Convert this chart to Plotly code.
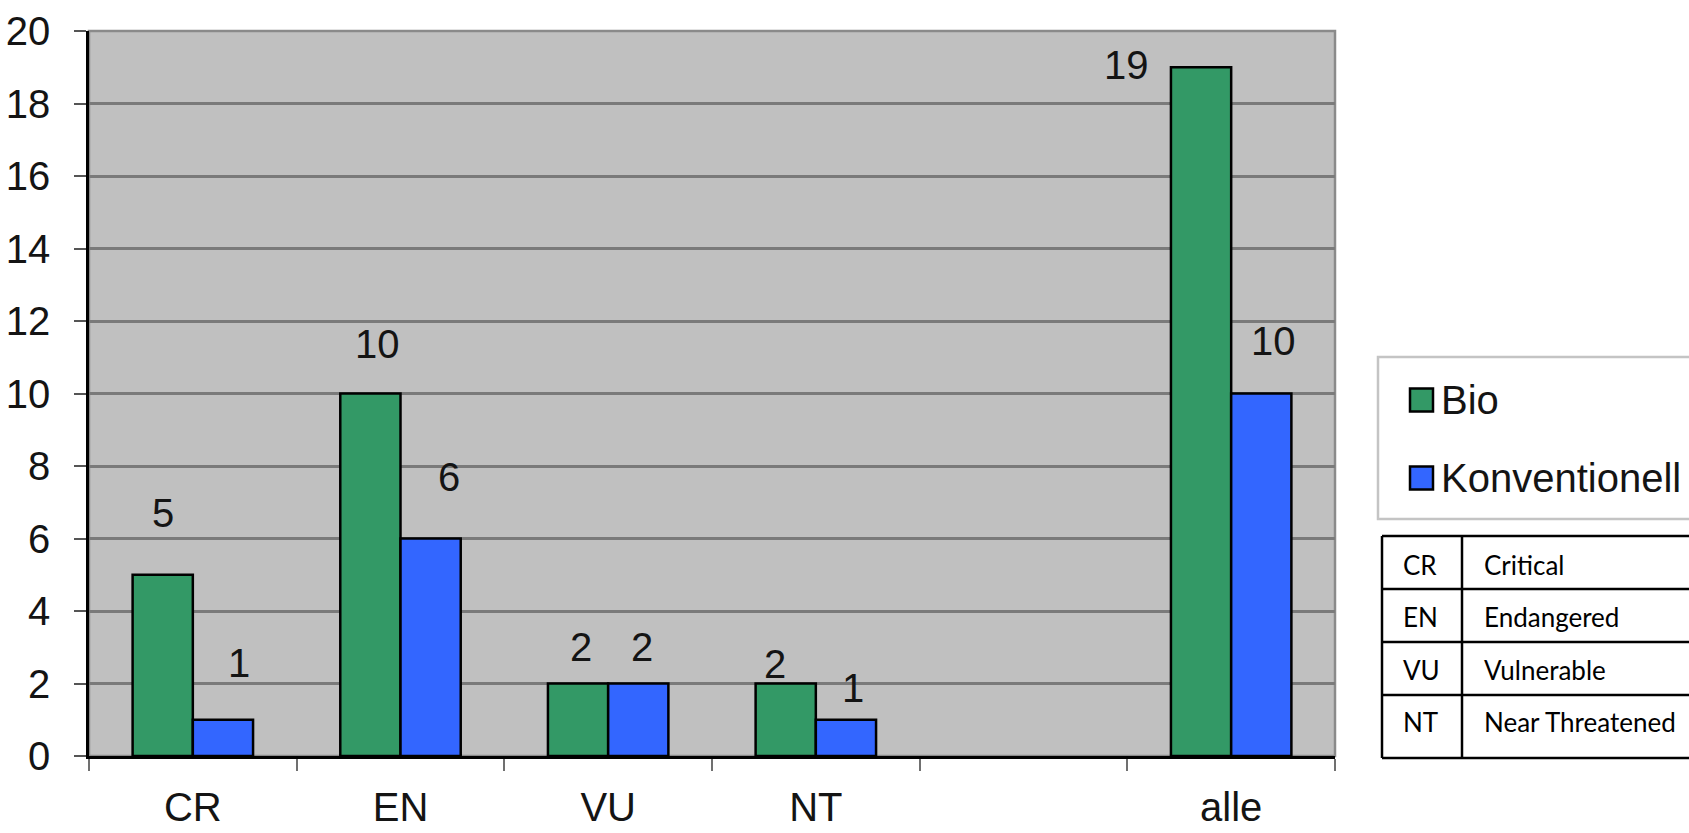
import plotly.graph_objects as go

# ---- data ----
categories = ["CR", "EN", "VU", "NT", " ", "alle"]
bio = [5, 10, 2, 2, None, 19]
konventionell = [1, 6, 2, 1, None, 10]
series_names = ["Bio", "Konventionell"]
y_ticks = list(range(0, 21, 2))

table_codes = ["CR", "EN", "VU", "NT"]
table_names = ["Critical", "Endangered", "Vulnerable", "Near Threatened"]

# ---- styling ----
W, H = 1689, 833
ML, MR, MT, MB = 89, 354, 31, 77
MAIN_FONT = "Liberation Sans, Arial, sans-serif"
MAIN_SIZE = 40
TABLE_FONT = "Lato, Carlito, Calibri, sans-serif"
TEXT_COLOR = "#141414"
GREEN = "#339966"
BLUE = "#3366FF"
BAR_GAP = 0.42

# hand-placed value labels: (dx px, dy px above bar top)
bio_label_offsets = [(0, 62), (7, 50), (3, 37), (-11, 20), None, (-75, 2)]
konv_label_offsets = [(16, 57), (18, 62), (4, 37), (7, 32), None, (12, 53)]

PLOT_W = W - ML - MR
PLOT_H = H - MT - MB


def px_x(px):
    return (px - ML) / PLOT_W


def px_y(py):
    return (H - MB - py) / PLOT_H


fig = go.Figure()
for name, vals, color in [(series_names[0], bio, GREEN), (series_names[1], konventionell, BLUE)]:
    fig.add_trace(go.Bar(
        x=categories, y=vals, name=name,
        marker=dict(color=color, line=dict(color="#000000", width=2.5)),
        showlegend=False, hoverinfo="x+y+name",
    ))

# value labels
half = (1 - BAR_GAP) / 4
annotations = []
for i, cat in enumerate(categories):
    for vals, offs, sign in [(bio, bio_label_offsets, -1), (konventionell, konv_label_offsets, 1)]:
        v = vals[i]
        if v is None:
            continue
        dx, dy = offs[i]
        annotations.append(dict(
            x=i + sign * half, y=v, xref="x", yref="y",
            text=str(v), showarrow=False, xshift=dx, yshift=dy,
            xanchor="center", yanchor="middle",
            font=dict(family=MAIN_FONT, size=MAIN_SIZE, color=TEXT_COLOR),
        ))

shapes = []
# plot frame (grey top/right)
shapes.append(dict(type="rect", xref="paper", yref="paper", x0=0, x1=1, y0=0, y1=1,
                   line=dict(color="#8a8a8a", width=2.5), layer="below"))

# legend box
shapes.append(dict(type="rect", xref="paper", yref="paper",
                   x0=px_x(1378), x1=px_x(1705), y0=px_y(519), y1=px_y(357),
                   line=dict(color="#c4c4c4", width=2.5), fillcolor="white"))
legend_rows = [(series_names[0], GREEN, 400), (series_names[1], BLUE, 478)]
for name, color, cy in legend_rows:
    shapes.append(dict(type="rect", xref="paper", yref="paper",
                       x0=px_x(1410), x1=px_x(1433), y0=px_y(cy + 11.5), y1=px_y(cy - 11.5),
                       line=dict(color="#000000", width=2.5), fillcolor=color))
    annotations.append(dict(x=px_x(1439), y=px_y(cy), xref="paper", yref="paper",
                            text=name, showarrow=False, xanchor="left", yanchor="middle",
                            font=dict(family=MAIN_FONT, size=MAIN_SIZE, color=TEXT_COLOR)))

# abbreviation table
tbl_x0, tbl_xdiv, tbl_x1 = 1382, 1462, 1705
row_lines = [536, 589, 642, 695, 758]
text_y = [565, 617, 670, 722]
line_style = dict(color="#000000", width=2.5)
for ry in row_lines:
    shapes.append(dict(type="line", xref="paper", yref="paper",
                       x0=px_x(tbl_x0), x1=px_x(tbl_x1), y0=px_y(ry), y1=px_y(ry), line=line_style))
for cx in (tbl_x0, tbl_xdiv):
    shapes.append(dict(type="line", xref="paper", yref="paper",
                       x0=px_x(cx), x1=px_x(cx), y0=px_y(row_lines[0]), y1=px_y(row_lines[-1]),
                       line=line_style))
for code, name, ty in zip(table_codes, table_names, text_y):
    annotations.append(dict(x=px_x(1401), y=px_y(ty), xref="paper", yref="paper", text=code,
                            showarrow=False, xanchor="left", yanchor="middle",
                            font=dict(family=TABLE_FONT, size=26, color="#000000")))
    annotations.append(dict(x=px_x(1482), y=px_y(ty), xref="paper", yref="paper", text=name,
                            showarrow=False, xanchor="left", yanchor="middle",
                            font=dict(family=TABLE_FONT, size=26, color="#000000")))

fig.update_layout(
    width=W, height=H,
    margin=dict(l=ML, r=MR, t=MT, b=MB, autoexpand=False),
    paper_bgcolor="white", plot_bgcolor="#c0c0c0",
    barmode="group", bargap=BAR_GAP, bargroupgap=0,
    showlegend=False,
    shapes=shapes, annotations=annotations,
    xaxis=dict(
        type="category", categoryorder="array", categoryarray=categories,
        tickson="boundaries", ticks="outside", ticklen=12, tickwidth=2, tickcolor="#707070",
        showline=True, linecolor="#000000", linewidth=2.5, showgrid=False,
        tickfont=dict(family=MAIN_FONT, size=MAIN_SIZE, color=TEXT_COLOR),
        ticklabelstandoff=14,
        range=[-0.5, 5.5], fixedrange=True,
    ),
    yaxis=dict(
        range=[0, 20], tickvals=y_ticks, ticks="outside", ticklen=12, tickwidth=2,
        tickcolor="#555555",
        showline=True, linecolor="#000000", linewidth=2.5,
        showgrid=True, gridcolor="#7a7a7a", gridwidth=2.5, zeroline=False,
        tickfont=dict(family=MAIN_FONT, size=MAIN_SIZE, color=TEXT_COLOR),
        ticklabelstandoff=16, fixedrange=True,
    ),
)

fig.write_html("out.html")
